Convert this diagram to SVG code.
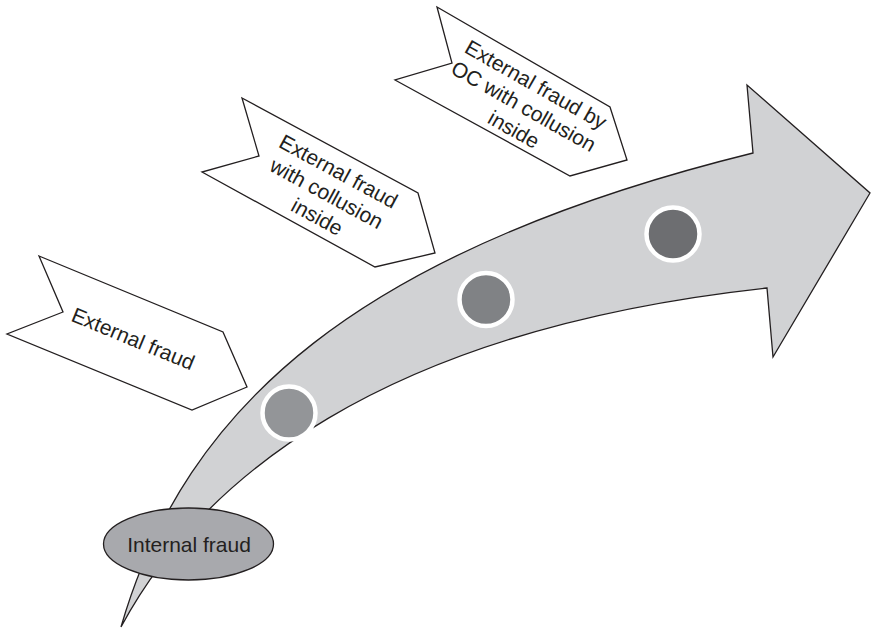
<svg xmlns="http://www.w3.org/2000/svg" width="871" height="631" viewBox="0 0 871 631">
<style>
.banner{fill:#ffffff;stroke:#231f20;stroke-width:1.3;stroke-linejoin:miter}
.lbl{font-family:"Liberation Sans",Arial,sans-serif;font-size:21px;fill:#231f20;text-anchor:middle}
.dot{stroke:#ffffff;stroke-width:4.5}
</style>
<rect width="871" height="631" fill="#ffffff"/>
<g id="connectors">
<path id="big-arrow" fill="#d1d2d4" stroke="#231f20" stroke-width="1.3" stroke-linejoin="miter"
d="M121,627 C200,480 380,330 767,288 L773,357 L870,193 L747,85 L753,153 C360,250 185,405 121,627 Z"/>
</g>
<g id="dot1"><circle class="dot" cx="289" cy="413" r="26.5" fill="#939598"/></g>
<g id="dot2"><circle class="dot" cx="486" cy="299.5" r="26.5" fill="#808285"/></g>
<g id="dot3"><circle class="dot" cx="673" cy="234" r="26.5" fill="#6d6e71"/></g>
<g id="internal-fraud">
<ellipse cx="188.5" cy="544" rx="85" ry="36" fill="#a8a9ad" stroke="#231f20" stroke-width="1.3"/>
<text class="lbl" x="189" y="551.5">Internal fraud</text>
</g>
<g id="external-fraud">
<polygon class="banner" points="39,256 223,332 247,387 192,410 7,334 63,312"/>
<text class="lbl" transform="translate(133,339) rotate(22.5)" y="7">External fraud</text>
</g>
<g id="external-fraud-collusion">
<polygon class="banner" points="242,98 418,193 435,253 375,267 202,172 259,156"/>
<text class="lbl" transform="translate(329,195) rotate(28.5)">
<tspan x="0" y="-18">External fraud</tspan>
<tspan x="0" y="7">with collusion</tspan>
<tspan x="0" y="32">inside</tspan>
</text>
</g>
<g id="external-fraud-oc">
<polygon class="banner" points="437,7 610,107 627,160 570,176 395,80 452,63"/>
<text class="lbl" transform="translate(526,108) rotate(29.5)">
<tspan x="0" y="-18">External fraud by</tspan>
<tspan x="0" y="7">OC with collusion</tspan>
<tspan x="0" y="32">inside</tspan>
</text>
</g>
</svg>
